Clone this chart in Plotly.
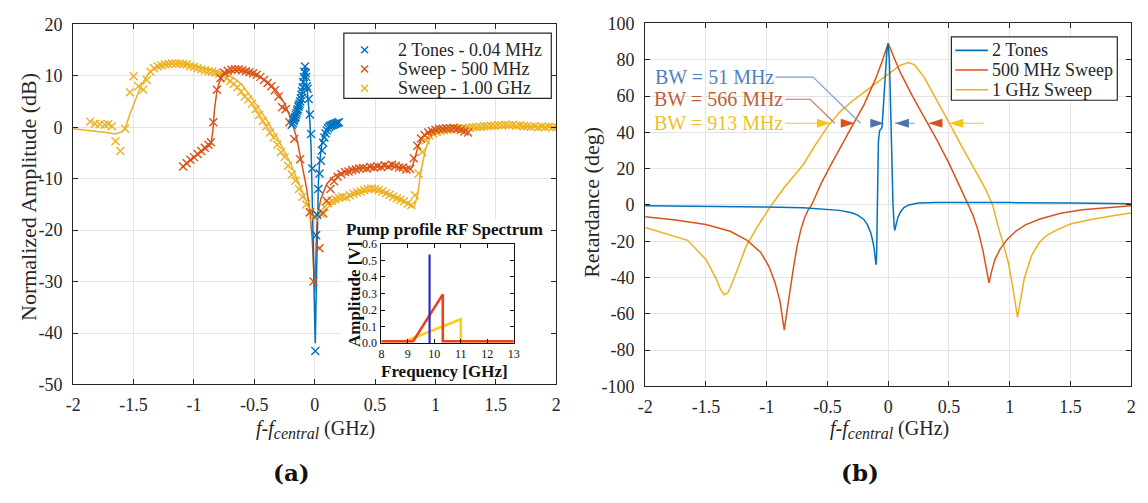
import plotly.graph_objects as go

W, H = 1148, 503
SERIF = "Liberation Serif, Times New Roman, serif"
INK = "#262626"
GRID = "#e4e4e4"
BLUE, RED, YELLOW = "#0072BD", "#D95319", "#EDB120"

# ---------------- (a) normalized amplitude ----------------
fit_1g_x = [-2.0, -1.9, -1.8, -1.7, -1.65, -1.6, -1.57, -1.53, -1.49, -1.45, -1.41, -1.37,
            -1.33, -1.27, -1.2, -1.1, -1.0, -0.9, -0.8, -0.72, -0.65, -0.6, -0.5, -0.4,
            -0.3, -0.2, -0.15, -0.1, -0.05, 0.0, 0.03, 0.07, 0.12, 0.2, 0.3, 0.4, 0.5,
            0.6, 0.7, 0.76, 0.8, 0.82, 0.85, 0.88, 0.92, 0.96, 1.0, 1.1, 1.2, 1.4, 1.6,
            1.8, 2.0]
fit_1g_y = [-0.3, -0.5, -0.8, -1.1, -1.3, -0.9, -0.2, 2.6, 5.2, 7.4, 9.2, 10.6,
            11.4, 12.0, 12.3, 12.3, 12.0, 11.4, 10.8, 10.2, 9.2, 8.2, 5.0, 1.5,
            -2.5, -7.0, -9.8, -12.5, -15.5, -17.5, -17.3, -16.5, -15.3, -14.2, -13.3, -12.5, -12.2,
            -12.8, -13.8, -14.6, -15.3, -15.6, -13.5, -8.5, -4.0, -1.8, -1.0, -0.6, -0.3, -0.1, 0.1,
            0.2, 0.0]

fit_500_x = [-1.1, -1.05, -1.0, -0.95, -0.9, -0.86, -0.845, -0.83, -0.81, -0.79, -0.76, -0.72,
             -0.68, -0.64, -0.6, -0.55, -0.5, -0.45, -0.4, -0.35, -0.3, -0.25, -0.2, -0.15,
             -0.1, -0.07, -0.04, -0.02, 0.0, 0.02, 0.05, 0.1, 0.15, 0.2, 0.3, 0.4, 0.5, 0.6,
             0.7, 0.76, 0.8, 0.82, 0.85, 0.88, 0.92, 0.96, 1.0, 1.1, 1.2, 1.27]
fit_500_y = [-7.8, -6.8, -5.9, -5.0, -4.0, -3.3, -1.0, 3.5, 7.0, 8.8, 10.0, 10.7,
             11.0, 11.1, 11.0, 10.7, 10.3, 9.7, 9.0, 7.9, 6.6, 4.6, 1.8, -2.0,
             -7.5, -11.5, -16.3, -22.0, -32.0, -17.5, -14.0, -11.0, -9.7, -9.0, -8.3, -7.9, -7.7, -7.6,
             -7.7, -7.9, -8.0, -6.8, -4.2, -2.4, -1.3, -0.8, -0.5, -0.2, -0.1, -0.1]

fit_2t_x = [-0.19, -0.17, -0.15, -0.13, -0.11, -0.1, -0.09, -0.085, -0.08, -0.075, -0.07, -0.06,
            -0.05, -0.04, -0.03, -0.02, -0.01, 0.0, 0.005, 0.01, 0.02, 0.03, 0.04, 0.05, 0.06,
            0.07, 0.08, 0.1, 0.12, 0.15, 0.2]
fit_2t_y = [0.5, 1.5, 2.8, 4.3, 6.0, 7.5, 9.5, 11.0, 11.8, 11.0, 9.5, 7.0,
            4.5, 1.0, -4.0, -12.0, -25.0, -38.0, -42.0, -35.0, -18.0, -11.0, -7.0, -4.5, -3.0,
            -2.0, -1.2, -0.3, 0.2, 0.5, 1.0]

meas_2t = [(-0.19, 0.5), (-0.18, 0.8), (-0.175, 1.2), (-0.17, 1.5), (-0.165, 1.8), (-0.16, 2.0),
           (-0.155, 2.4), (-0.15, 2.8), (-0.145, 3.2), (-0.14, 3.5), (-0.135, 4.0), (-0.13, 4.3),
           (-0.125, 4.6), (-0.12, 5.0), (-0.115, 5.6), (-0.11, 6.3), (-0.105, 7.0), (-0.1, 7.8),
           (-0.095, 8.8), (-0.09, 9.8), (-0.085, 10.8), (-0.08, 11.8), (-0.075, 10.5), (-0.07, 9.8),
           (-0.065, 8.0), (-0.06, 7.5), (-0.05, 5.5), (-0.04, 2.5), (-0.03, -1.3), (-0.02, -8.0),
           (0.005, -43.5), (0.012, -21.0), (0.02, -17.0), (0.03, -12.0), (0.04, -9.0), (0.05, -6.5),
           (0.06, -4.5), (0.07, -3.0), (0.08, -2.0), (0.09, -1.2), (0.1, -0.6), (0.11, -0.2),
           (0.12, 0.1), (0.13, 0.3), (0.14, 0.4), (0.15, 0.5), (0.16, 0.6), (0.17, 0.7),
           (0.18, 0.8), (0.19, 0.9), (0.2, 1.0)]

meas_500 = [(-1.09, -7.6), (-1.06, -7.0), (-1.03, -6.3), (-1.0, -5.8), (-0.97, -5.2), (-0.94, -4.6),
            (-0.91, -4.0), (-0.88, -3.4), (-0.86, -2.9), (-0.84, 1.0), (-0.81, 7.3), (-0.78, 9.6),
            (-0.75, 10.6), (-0.72, 11.0), (-0.69, 11.2), (-0.66, 11.3), (-0.63, 11.3), (-0.6, 11.1),
            (-0.57, 10.9), (-0.54, 10.7), (-0.51, 10.5), (-0.48, 10.2), (-0.45, 9.8), (-0.42, 9.2),
            (-0.39, 8.6), (-0.36, 8.0), (-0.33, 7.2), (-0.3, 6.0), (-0.27, 3.9), (-0.24, 3.5),
            (-0.21, 1.0), (-0.17, -2.3), (-0.12, -6.2), (-0.04, -16.5), (-0.01, -30.0), (0.04, -23.5),
            (0.07, -16.7), (0.1, -14.3), (0.13, -12.0), (0.16, -10.5), (0.19, -9.6), (0.22, -9.1),
            (0.25, -8.7), (0.28, -8.6), (0.31, -8.3), (0.34, -8.2), (0.37, -8.0), (0.4, -7.9),
            (0.43, -8.0), (0.46, -7.7), (0.49, -7.8), (0.52, -7.6), (0.55, -7.7), (0.58, -7.4),
            (0.61, -7.6), (0.64, -7.3), (0.67, -7.5), (0.7, -7.8), (0.73, -7.8), (0.76, -8.2),
            (0.79, -8.1), (0.82, -6.0), (0.85, -3.6), (0.88, -2.2), (0.91, -1.5), (0.94, -1.0),
            (0.97, -0.7), (1.0, -0.5), (1.03, -0.3), (1.06, -0.3), (1.09, -0.2), (1.12, -0.2),
            (1.15, -0.1), (1.18, -0.3), (1.21, -0.5), (1.24, -0.8), (1.27, -1.0)]

meas_1g = [(-1.86, 1.1), (-1.82, 0.7), (-1.78, 0.6), (-1.74, 0.5), (-1.71, 0.6), (-1.68, 0.2),
           (-1.65, -2.7), (-1.61, -4.6), (-1.57, -0.3), (-1.53, 6.8), (-1.5, 9.9), (-1.46, 8.0),
           (-1.42, 7.3), (-1.39, 9.2), (-1.36, 10.8), (-1.33, 11.5), (-1.3, 11.8), (-1.27, 12.0),
           (-1.24, 12.2), (-1.21, 12.3), (-1.18, 12.4), (-1.15, 12.4), (-1.12, 12.4), (-1.09, 12.3),
           (-1.06, 12.2), (-1.03, 11.9), (-1.0, 11.7), (-0.97, 11.5), (-0.94, 11.3), (-0.91, 11.1),
           (-0.88, 10.9), (-0.85, 10.8), (-0.82, 10.6), (-0.79, 10.4), (-0.76, 10.1), (-0.73, 9.5),
           (-0.7, 9.0), (-0.67, 8.4), (-0.64, 7.8), (-0.61, 6.9), (-0.58, 6.0), (-0.55, 5.4),
           (-0.52, 4.6), (-0.49, 3.5), (-0.46, 2.4), (-0.43, 1.2), (-0.4, 0.2), (-0.37, -1.0),
           (-0.34, -2.0), (-0.31, -3.4), (-0.28, -4.8), (-0.25, -5.8), (-0.22, -7.5), (-0.19, -9.2),
           (-0.16, -10.4), (-0.13, -12.0), (-0.1, -13.5), (-0.07, -15.0), (-0.04, -16.5), (-0.01, -17.5),
           (0.02, -17.0), (0.05, -16.8), (0.08, -15.5), (0.11, -14.8), (0.14, -14.3), (0.17, -14.0),
           (0.2, -13.7), (0.23, -13.5), (0.26, -13.6), (0.29, -13.2), (0.32, -12.9), (0.35, -12.7),
           (0.38, -12.5), (0.41, -12.2), (0.44, -12.0), (0.47, -11.9), (0.5, -12.0), (0.53, -12.2),
           (0.56, -12.5), (0.59, -12.8), (0.62, -13.1), (0.65, -13.5), (0.68, -13.8), (0.71, -14.1),
           (0.74, -14.4), (0.77, -14.8), (0.8, -15.1), (0.83, -13.2), (0.86, -9.0), (0.89, -4.8),
           (0.92, -2.5), (0.95, -1.6), (0.98, -1.2), (1.01, -0.9), (1.04, -0.7), (1.07, -0.6),
           (1.1, -0.5), (1.13, -0.4), (1.16, -0.4), (1.19, -0.3), (1.22, -0.2), (1.25, -0.2),
           (1.28, -0.1), (1.31, 0.0), (1.34, 0.0), (1.37, 0.1), (1.4, 0.2), (1.43, 0.2),
           (1.46, 0.3), (1.49, 0.3), (1.52, 0.4), (1.55, 0.4), (1.58, 0.5), (1.61, 0.4),
           (1.64, 0.5), (1.67, 0.3), (1.7, 0.4), (1.73, 0.2), (1.76, 0.2), (1.79, 0.1),
           (1.82, 0.2), (1.85, 0.0), (1.88, 0.1), (1.91, 0.0), (1.94, 0.1), (1.97, 0.0), (2.0, 0.0)]

legend_a_names = ["2 Tones - 0.04 MHz", "Sweep - 500 MHz", "Sweep - 1.00 GHz"]

# pump spectra for the inset (frequency in GHz, amplitude in V)
pump_2t_f, pump_2t_a = [9.82, 9.82], [0.0, 0.536]
pump_500_f, pump_500_a = [8.0, 9.2, 10.32, 10.32, 13.0], [0.012, 0.012, 0.295, 0.012, 0.012]
pump_1g_f, pump_1g_a = [8.0, 8.9, 11.0, 11.0, 13.0], [0.012, 0.012, 0.145, 0.012, 0.012]

# ---------------- (b) retardance ----------------
ret_2t_x = [-2.0, -1.5, -1.0, -0.7, -0.5, -0.4, -0.3, -0.25, -0.2, -0.17, -0.14, -0.12, -0.11,
            -0.1, -0.095, -0.09, -0.085, -0.08, -0.07, -0.06, -0.05, -0.04, -0.03, -0.02, -0.01,
            0.0, 0.01, 0.02, 0.03, 0.04, 0.05, 0.055, 0.065, 0.08, 0.1, 0.13, 0.17, 0.25, 0.4,
            0.7, 1.0, 1.5, 2.0]
ret_2t_y = [-0.5, -0.7, -1.1, -1.6, -2.3, -3.0, -4.3, -5.6, -8.0, -11.0, -16.0, -22.0, -27.0,
            -33.0, -28.0, -10.0, 10.0, 35.0, 41.0, 41.5, 43.0, 55.0, 67.0, 77.0, 85.0,
            89.0, 80.0, 55.0, 25.0, 0.0, -12.0, -14.0, -11.0, -7.0, -4.0, -1.5, 0.0, 1.0, 1.4,
            1.5, 1.3, 1.0, 0.7]

ret_500_x = [-2.0, -1.75, -1.5, -1.3, -1.16, -1.05, -0.98, -0.93, -0.89, -0.87, -0.855, -0.84,
             -0.82, -0.8, -0.78, -0.75, -0.72, -0.69, -0.66, -0.63, -0.55, -0.48, -0.4, -0.3,
             -0.2, -0.1, -0.05, 0.0, 0.05, 0.1, 0.2, 0.3, 0.4, 0.5, 0.6, 0.66, 0.7, 0.74,
             0.78, 0.81, 0.83, 0.85, 0.88, 0.92, 0.98, 1.05, 1.13, 1.25, 1.42, 1.6, 1.8, 2.0]
ret_500_y = [-6.5, -8.3, -10.8, -14.5, -19.5, -26.0, -34.0, -43.0, -53.0, -61.0, -69.0, -62.0,
             -52.0, -44.0, -35.0, -23.0, -14.0, -7.5, -3.0, 0.0, 12.0, 21.0, 31.0, 43.0,
             55.0, 70.0, 79.0, 89.0, 81.0, 73.0, 60.0, 48.0, 36.0, 23.0, 9.0, 0.0, -6.0, -14.0,
             -25.0, -36.0, -43.0, -37.0, -30.0, -24.5, -19.0, -14.5, -11.0, -7.8, -4.6, -2.6, -1.4, -0.5]

ret_1g_x = [-2.0, -1.85, -1.65, -1.5, -1.42, -1.38, -1.35, -1.32, -1.28, -1.22, -1.17, -1.08,
            -0.96, -0.85, -0.7, -0.6, -0.5, -0.4, -0.3, -0.2, -0.1, 0.0, 0.1, 0.17, 0.22,
            0.3, 0.4, 0.5, 0.6, 0.7, 0.8, 0.86, 0.9, 0.95, 0.99, 1.02, 1.045, 1.065, 1.08,
            1.12, 1.18, 1.24, 1.3, 1.38, 1.5, 1.67, 1.85, 2.0]
ret_1g_y = [-12.4, -15.5, -19.5, -30.0, -40.0, -46.5, -49.5, -48.5, -42.5, -32.0, -23.0, -12.4,
            0.0, 10.0, 22.0, 33.0, 43.0, 51.0, 57.0, 62.0, 67.0, 72.0, 77.0, 78.5, 77.0,
            70.0, 58.0, 45.5, 33.0, 21.0, 9.0, 0.0, -10.6, -22.0, -32.0, -43.0, -55.0, -62.0, -56.0,
            -40.7, -28.0, -21.0, -17.0, -14.0, -10.5, -8.0, -6.0, -4.4]

legend_b_names = ["2 Tones", "500 MHz Sweep", "1 GHz Sweep"]

# bandwidth markers: label, colour, leader line (x, y), left tip, right tip, right tail
bw_level = 45.0
bw_labels = ["BW = 51 MHz", "BW = 566 MHz", "BW = 913 MHz"]
bw_label_y = [70.4, 58.2, 45.0]
bw_leader_x = [[-0.927, -0.618, -0.228], [-0.846, -0.642, -0.439], [-0.846, -0.472]]
bw_leader_y = [[70.4, 70.4, 45.0], [58.2, 58.2, 45.0], [45.0, 45.0]]
bw_tip_left = [-0.033, -0.276, -0.472]
bw_tip_right = [0.057, 0.333, 0.504]
bw_tail_right = [0.22, 0.44, 0.79]
bw_text_col = ["#4f7fc0", "#c0603a", "#efbf2a"]
bw_line_col = ["#7f9fc8", "#c47a5a", "#efc040"]
bw_head_col = ["#4a72b0", "#d9501e", "#f5c518"]

# ---------------- layout geometry (pixels) ----------------
A_X, A_Y = (66, 555), (15, 390)
B_X, B_Y = (645, 1137), (14, 392)
I_X, I_Y = (378, 512), (243.5, 347)


def xdom(p):
    return [p[0] / W, p[1] / W]


def ydom(p):
    return [1 - p[1] / H, 1 - p[0] / H]


def lbl(v):
    return f"{v:g}"


def px(x):
    return x / W


def py(y):
    return 1 - y / H


fig = go.Figure()

# (a) fits then measurements
for xs, ys, c in [(fit_1g_x, fit_1g_y, YELLOW), (fit_500_x, fit_500_y, RED), (fit_2t_x, fit_2t_y, BLUE)]:
    fig.add_trace(go.Scatter(x=xs, y=ys, mode="lines", line=dict(color=c, width=1.5),
                             showlegend=False, hoverinfo="skip", xaxis="x", yaxis="y"))

for pts, c, name in [(meas_1g, YELLOW, legend_a_names[2]),
                     (meas_500, RED, legend_a_names[1]),
                     (meas_2t, BLUE, legend_a_names[0])]:
    fig.add_trace(go.Scatter(x=[p[0] for p in pts], y=[p[1] for p in pts], mode="markers",
                             marker=dict(symbol="x-thin", size=8, color=c, line=dict(color=c, width=1.4)),
                             name=name, showlegend=False, xaxis="x", yaxis="y"))

# inset pump spectra
fig.add_trace(go.Scatter(x=pump_1g_f, y=pump_1g_a, mode="lines", line=dict(color="#FFCC1A", width=2.6),
                         showlegend=False, xaxis="x3", yaxis="y3"))
fig.add_trace(go.Scatter(x=pump_500_f, y=pump_500_a, mode="lines", line=dict(color="#E8431C", width=2.6),
                         showlegend=False, xaxis="x3", yaxis="y3"))
fig.add_trace(go.Scatter(x=pump_2t_f, y=pump_2t_a, mode="lines", line=dict(color="#2B2BC8", width=2.2),
                         showlegend=False, xaxis="x3", yaxis="y3"))

# (b) retardance
for xs, ys, c, name in [(ret_1g_x, ret_1g_y, YELLOW, legend_b_names[2]),
                        (ret_500_x, ret_500_y, RED, legend_b_names[1]),
                        (ret_2t_x, ret_2t_y, BLUE, legend_b_names[0])]:
    fig.add_trace(go.Scatter(x=xs, y=ys, mode="lines", line=dict(color=c, width=1.5), name=name,
                             showlegend=False, xaxis="x2", yaxis="y2"))

# leader lines from the bandwidth labels
for lx, ly, c in zip(bw_leader_x, bw_leader_y, bw_line_col):
    fig.add_trace(go.Scatter(x=lx, y=ly, mode="lines", line=dict(color=c, width=1.1),
                             showlegend=False, hoverinfo="skip", xaxis="x2", yaxis="y2"))
for tr, tl, c in zip(bw_tip_right, bw_tail_right, bw_line_col):
    fig.add_trace(go.Scatter(x=[tr, tl], y=[bw_level, bw_level], mode="lines", line=dict(color=c, width=1.1),
                             showlegend=False, hoverinfo="skip", xaxis="x2", yaxis="y2"))

# arrowheads as filled triangles (sizes in pixels converted to data units)
bx_scale = (B_X[1] - B_X[0]) / 4.0
by_scale = (B_Y[1] - B_Y[0]) / 200.0
head_len, head_half = 14.0 / bx_scale, 4.6 / by_scale
shapes = []
for tl, tr, c in zip(bw_tip_left, bw_tip_right, bw_head_col):
    shapes.append(dict(type="path", xref="x2", yref="y2", fillcolor=c, line=dict(width=0),
                       path=f"M{tl},{bw_level} L{tl - head_len},{bw_level + head_half} "
                            f"L{tl - head_len},{bw_level - head_half} Z"))
    shapes.append(dict(type="path", xref="x2", yref="y2", fillcolor=c, line=dict(width=0),
                       path=f"M{tr},{bw_level} L{tr + head_len},{bw_level + head_half} "
                            f"L{tr + head_len},{bw_level - head_half} Z"))

# white panel behind the inset hides the main grid there
shapes.append(dict(type="rect", xref="x", yref="y", x0=0.22, x1=2.0, y0=-50, y1=-17.8,
                   fillcolor="white", line=dict(width=0), layer="between"))

ann = []


def text_at(x, y, text, size, family=SERIF, color=INK, angle=0, anchor="center"):
    ann.append(dict(x=px(x), y=py(y), xref="paper", yref="paper", text=text, showarrow=False,
                    textangle=angle, font=dict(family=family, size=size, color=color),
                    xanchor=anchor, yanchor="middle"))


# legend of (a): boxed, cross markers
LA_BOX = (340, 24, 550, 92)
LA_ROWS = [41.5, 61.5, 81.5]
shapes.append(dict(type="rect", xref="paper", yref="paper", x0=px(LA_BOX[0]), x1=px(LA_BOX[2]),
                   y0=py(LA_BOX[3]), y1=py(LA_BOX[1]), fillcolor="white",
                   line=dict(color=INK, width=1.2), layer="above"))
for row, c, name in zip(LA_ROWS, [BLUE, RED, YELLOW], legend_a_names):
    cx, r = 361, 3.6
    for s in (1, -1):
        shapes.append(dict(type="line", xref="paper", yref="paper", x0=px(cx - r), x1=px(cx + r),
                           y0=py(row - s * r), y1=py(row + s * r), line=dict(color=c, width=1.4),
                           layer="above"))
    text_at(393, row, name, 18, anchor="left")

# legend of (b): boxed, line samples
LB_BOX = (955, 28, 1123, 94)
LB_ROWS = [42, 62.5, 83]
shapes.append(dict(type="rect", xref="paper", yref="paper", x0=px(LB_BOX[0]), x1=px(LB_BOX[2]),
                   y0=py(LB_BOX[3]), y1=py(LB_BOX[1]), fillcolor="white",
                   line=dict(color=INK, width=1.2), layer="above"))
for row, c, name in zip(LB_ROWS, [BLUE, RED, YELLOW], legend_b_names):
    shapes.append(dict(type="line", xref="paper", yref="paper", x0=px(959), x1=px(992),
                       y0=py(row), y1=py(row), line=dict(color=c, width=1.6), layer="above"))
    text_at(994, row, name, 18, anchor="left")

axis_common = dict(showline=True, linecolor=INK, linewidth=1, mirror="ticks", ticks="inside",
                   ticklen=5, tickcolor=INK, showgrid=True, gridcolor=GRID, gridwidth=1,
                   zeroline=False, tickfont=dict(family=SERIF, size=18, color=INK))

xa_ticks = [-2, -1.5, -1, -0.5, 0, 0.5, 1, 1.5, 2]
ya_ticks = [-50, -40, -30, -20, -10, 0, 10, 20]
yb_ticks = list(range(-100, 101, 20))
xi_ticks = [8, 9, 10, 11, 12, 13]
yi_ticks = [0.0, 0.1, 0.2, 0.3, 0.4, 0.5, 0.6]

inset_axis = dict(showline=True, linecolor="#111111", linewidth=1.2, mirror="ticks", ticks="inside",
                  ticklen=4, tickcolor="#111111", showgrid=False, zeroline=False,
                  tickfont=dict(family=SERIF, size=12, color="#111111"))

fig.update_layout(
    width=W, height=H, margin=dict(l=0, r=0, t=0, b=0),
    paper_bgcolor="white", plot_bgcolor="white", showlegend=False,
    xaxis=dict(domain=xdom(A_X), range=[-2, 2], tickvals=xa_ticks, ticktext=[lbl(v) for v in xa_ticks],
               anchor="y", ticklabelstandoff=4, **axis_common),
    yaxis=dict(domain=ydom(A_Y), range=[-50, 20], tickvals=ya_ticks, ticktext=[lbl(v) for v in ya_ticks],
               anchor="x", ticklabelstandoff=6, **axis_common),
    xaxis2=dict(domain=xdom(B_X), range=[-2, 2], tickvals=xa_ticks, ticktext=[lbl(v) for v in xa_ticks],
                anchor="y2", ticklabelstandoff=4, **axis_common),
    yaxis2=dict(domain=ydom(B_Y), range=[-100, 100], tickvals=yb_ticks, ticktext=[lbl(v) for v in yb_ticks],
                anchor="x2", ticklabelstandoff=6, **axis_common),
    xaxis3=dict(domain=xdom(I_X), range=[8, 13], tickvals=xi_ticks, ticktext=[lbl(v) for v in xi_ticks],
                anchor="y3", ticklabelstandoff=-1, **inset_axis),
    yaxis3=dict(domain=ydom(I_Y), range=[0, 0.6], tickvals=yi_ticks, ticktext=[f"{v:.1f}" for v in yi_ticks],
                anchor="x3", ticklabelstandoff=1, **inset_axis),
    shapes=shapes,
)

xtitle = ('<i>f-f</i><sub><span style="font-size:16px"><i>central</i></span></sub>'
          ' (GHz)')
text_at(20, 195, "Normalized Amplitude (dB)", 22, angle=-90)
text_at(311, 437, xtitle, 20)
text_at(287, 482, "<b>(a)</b>", 23, family="DejaVu Serif", color="#111111")
text_at(590, 200, "Retardance (deg)", 22, angle=-90)
text_at(892, 437, xtitle, 20)
text_at(863, 482, "<b>(b)</b>", 23, family="DejaVu Serif", color="#111111")
text_at(442, 229, "<b>Pump profile RF Spectrum</b>", 17, color="#111111")
text_at(442, 376, "<b>Frequency [GHz]</b>", 17, color="#111111")
text_at(351, 296, "<b>Amplitude [V]</b>", 17, color="#111111", angle=-90)

for t, y, c, lx in zip(bw_labels, bw_label_y, bw_text_col, bw_leader_x):
    ann.append(dict(x=lx[0], y=y, xref="x2", yref="y2", text=t, showarrow=False, xanchor="right",
                    yanchor="middle", font=dict(family=SERIF, size=20, color=c)))

fig.update_layout(annotations=ann)
fig.write_html("out.html")
